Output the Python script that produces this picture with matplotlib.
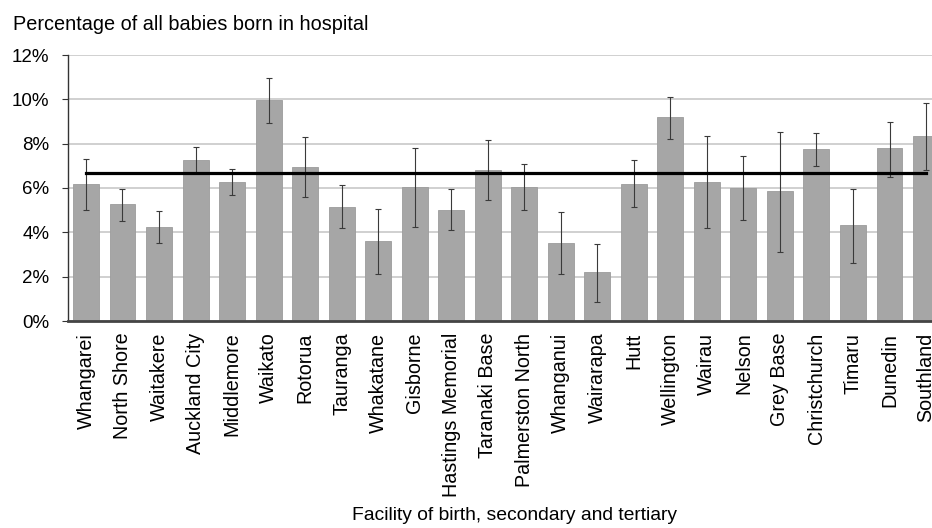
import numpy as np
import matplotlib
matplotlib.use('Agg')
import matplotlib.pyplot as plt

# Facilities (secondary and tertiary) and the share of babies born there
facilities = ['Whangarei', 'North Shore', 'Waitakere', 'Auckland City', 'Middlemore',
              'Waikato', 'Rotorua', 'Tauranga', 'Whakatane', 'Gisborne',
              'Hastings Memorial', 'Taranaki Base', 'Palmerston North', 'Whanganui',
              'Wairarapa', 'Hutt', 'Wellington', 'Wairau', 'Nelson', 'Grey Base',
              'Christchurch', 'Timaru', 'Dunedin', 'Southland']
pct = [6.17, 5.29, 4.24, 7.26, 6.28, 9.97, 6.96, 5.16, 3.59, 6.03, 5.02, 6.81,
       6.06, 3.52, 2.20, 6.18, 9.19, 6.28, 6.01, 5.86, 7.76, 4.32, 7.79, 8.34]
ci_low = [5.00, 4.53, 3.50, 6.67, 5.68, 8.95, 5.58, 4.19, 2.12, 4.22, 4.10, 5.44,
          5.00, 2.12, 0.87, 5.13, 8.22, 4.19, 4.56, 3.13, 7.00, 2.60, 6.51, 6.82]
ci_high = [7.29, 5.97, 4.98, 7.86, 6.87, 10.96, 8.31, 6.12, 5.07, 7.80, 5.94, 8.15,
           7.08, 4.93, 3.47, 7.26, 10.12, 8.36, 7.46, 8.54, 8.48, 5.95, 8.99, 9.83]
overall = 6.69  # all facilities
y_ticks = [0, 2, 4, 6, 8, 10, 12]

plt.rcParams['font.family'] = ['Liberation Sans', 'DejaVu Sans']

fig = plt.figure(figsize=(9.32, 5.28), dpi=100)
# axes runs past the right edge of the figure like in the original
ax = fig.add_axes([67.7 / 932, 207 / 528, 876.6 / 932, 266 / 528])

x = np.arange(len(facilities))
pct_arr = np.array(pct)
yerr = [pct_arr - np.array(ci_low), np.array(ci_high) - pct_arr]

ax.bar(x, pct, width=0.71, color='#a6a6a6', edgecolor='#9c9c9c', linewidth=0.6, zorder=2)
ax.errorbar(x, pct, yerr=yerr, fmt='none', ecolor='#3a3a3a', elinewidth=0.8,
            capsize=2.5, capthick=0.8, zorder=3)
ax.plot([x[0], x[-1]], [overall, overall], color='black', linewidth=2.3, zorder=4)

ax.set_xlim(-0.5, len(facilities) - 0.5)
ax.set_ylim(0, 12)
ax.set_yticks(y_ticks)
ax.set_yticklabels([f'{t}%' for t in y_ticks])
ax.set_xticks(x)
ax.set_xticklabels(facilities, rotation=90, va='top', ha='center')

ax.yaxis.grid(True, color='#c4c4c4', linewidth=1.1, zorder=0)
ax.set_axisbelow(True)
for side in ['top', 'right']:
    ax.spines[side].set_visible(False)
ax.spines['left'].set_color('#333333')
ax.spines['left'].set_linewidth(1.0)
ax.spines['bottom'].set_color('#444444')
ax.spines['bottom'].set_linewidth(2.0)
ax.spines['bottom'].set_zorder(5)

ax.tick_params(axis='y', length=4.3, width=0.8, color='#333333', pad=8.9, labelsize=13.5)
ax.tick_params(axis='x', length=0, pad=8.4, labelsize=14.2)

fig.text(13 / 932, 1 - 25 / 528, 'Percentage of all babies born in hospital',
         fontsize=14.3, va='center', ha='left')
fig.text(514 / 932, 1 - 515 / 528, 'Facility of birth, secondary and tertiary',
         fontsize=13.9, va='center', ha='center')

plt.savefig('out.png', dpi=100)
plt.close()
